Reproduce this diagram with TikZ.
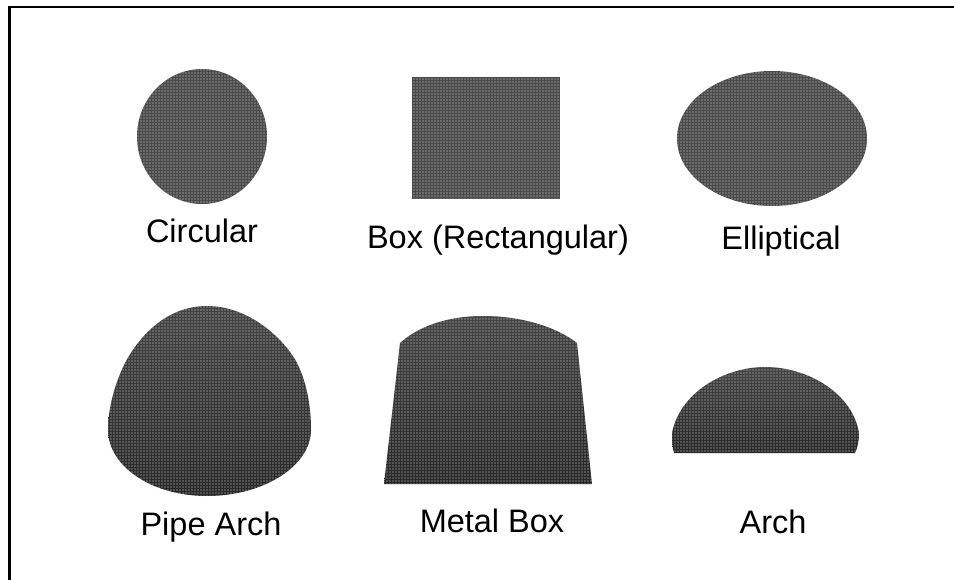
\documentclass[tikz,border=0pt]{standalone}
\usepackage{fontspec}
\setmainfont{Liberation Sans}
\usetikzlibrary{patterns.meta}
\definecolor{shapegrey}{HTML}{4A4A4A}
\definecolor{darkgrey}{HTML}{282828}
\definecolor{midgrey}{HTML}{444444}
\tikzset{
  halftone/.style={postaction={pattern={Dots[distance=3pt,radius=.62pt]},pattern color=white!85!black}},
  culvert/.style={fill=shapegrey,draw=none,halftone},
  lowerculvert/.style={top color=midgrey,bottom color=darkgrey,draw=none,halftone},
  caption/.style={font=\fontsize{32.5}{36}\selectfont,text=black,inner sep=0pt,anchor=base}
}
\begin{document}
\begin{tikzpicture}[x=1pt,y=-1pt]
\useasboundingbox (0,0) rectangle (954,580);
\fill[white] (0,0) rectangle (954,580);
\draw[line width=2.4pt,black] (954,7) -- (9.5,7) -- (9.5,580);
% top row
\path[culvert] (202,136.5) ellipse [x radius=65,y radius=67.5];
\path[culvert] (412,77) rectangle (560,199);
\path[culvert] (772,138.5) ellipse [x radius=95,y radius=67.5];
% bottom row
\path[lowerculvert] (207,306) .. controls (250,306) and (285,340) .. (297,363)
  .. controls (308,385) and (311,410) .. (311,430)
  .. controls (311,465) and (265,496) .. (207,496)
  .. controls (150,496) and (108,465) .. (108,430)
  .. controls (108,410) and (114,385) .. (125,363)
  .. controls (137,340) and (164,306) .. (207,306) -- cycle;
\path[lowerculvert] (384,484) -- (400,343)
  .. controls (420,325) and (450,316) .. (483,316)
  .. controls (520,316) and (555,326) .. (577,343)
  -- (592,484) -- cycle;
\path[lowerculvert] (674,453) .. controls (672,447) and (672,440) .. (672,433)
  .. controls (680,392) and (725,367) .. (765,367)
  .. controls (810,367) and (853,395) .. (859,433)
  .. controls (859,440) and (858,447) .. (855,453) -- cycle;
% captions
\node[caption] (c1) at (202,243) {Circular};
\node[caption] (c2) at (498,249) {Box (Rectangular)};
\node[caption] (c3) at (781,250) {Elliptical};
\node[caption] (c4) at (211,535) {Pipe Arch};
\node[caption] (c5) at (492,532) {Metal Box};
\node[caption] (c6) at (773,533) {Arch};
\end{tikzpicture}
\end{document}
